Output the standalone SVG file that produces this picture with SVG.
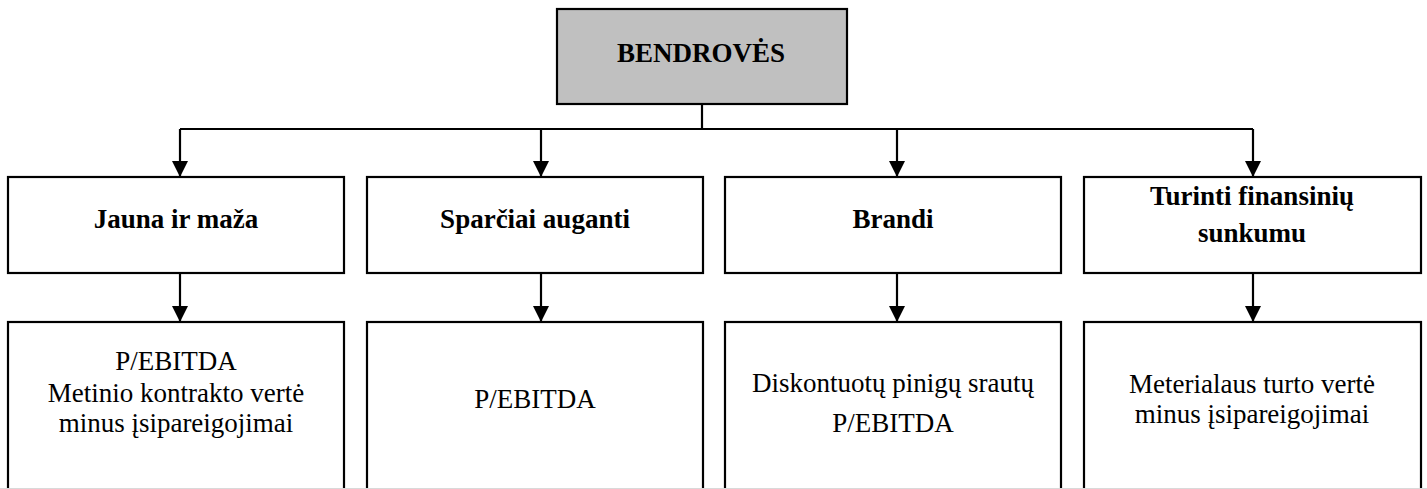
<svg xmlns="http://www.w3.org/2000/svg" width="1427" height="489" viewBox="0 0 1427 489">
  <style>
    .box { fill: #ffffff; stroke: #000000; stroke-width: 2.2; }
    .root { fill: #c0c0c0; stroke: #000000; stroke-width: 2.2; }
    .link { fill: none; stroke: #000000; stroke-width: 2.2; }
    .t { font-family: "Liberation Serif", "Times New Roman", serif; font-size: 27px; fill: #000000; text-anchor: middle; }
    .b { font-weight: bold; }
  </style>
  <defs>
    <marker id="arrow" markerUnits="userSpaceOnUse" markerWidth="16" markerHeight="18" refX="15" refY="8" orient="auto">
      <path d="M0,0 L16,8 L0,16 Z" fill="#000000"/>
    </marker>
  </defs>

  <rect width="1427" height="489" fill="#ffffff"/>

  <!-- connectors -->
  <g id="connectors">
    <path class="link" d="M702,104 V129"/>
    <path class="link" d="M180,129 H1253"/>
    <path class="link" d="M180,129 V176" marker-end="url(#arrow)"/>
    <path class="link" d="M541,129 V176" marker-end="url(#arrow)"/>
    <path class="link" d="M897,129 V176" marker-end="url(#arrow)"/>
    <path class="link" d="M1253,129 V176" marker-end="url(#arrow)"/>
    <path class="link" d="M180,273 V321" marker-end="url(#arrow)"/>
    <path class="link" d="M541,273 V321" marker-end="url(#arrow)"/>
    <path class="link" d="M897,273 V321" marker-end="url(#arrow)"/>
    <path class="link" d="M1253,273 V321" marker-end="url(#arrow)"/>
  </g>

  <!-- top node -->
  <g id="bendroves">
    <rect class="root" x="557" y="9" width="290" height="95"/>
    <text class="t b" x="701" y="62">BENDROVĖS</text>
  </g>

  <!-- categories -->
  <g id="jauna">
    <rect class="box" x="8" y="177" width="336" height="96"/>
    <text class="t b" x="176" y="228">Jauna ir maža</text>
  </g>
  <g id="sparciai">
    <rect class="box" x="367" y="177" width="336" height="96"/>
    <text class="t b" x="535" y="228">Sparčiai auganti</text>
  </g>
  <g id="brandi">
    <rect class="box" x="725" y="177" width="336" height="96"/>
    <text class="t b" x="893" y="228">Brandi</text>
  </g>
  <g id="sunkumai">
    <rect class="box" x="1084" y="177" width="337" height="96"/>
    <text class="t b" x="1252" y="205">Turinti finansinių</text>
    <text class="t b" x="1252" y="242">sunkumu</text>
  </g>

  <!-- valuation methods -->
  <g id="metodai-jauna">
    <rect class="box" x="8" y="322" width="336" height="190"/>
    <text class="t" x="176" y="370">P/EBITDA</text>
    <text class="t" x="176" y="402">Metinio kontrakto vertė</text>
    <text class="t" x="176" y="432">minus įsipareigojimai</text>
  </g>
  <g id="metodai-sparciai">
    <rect class="box" x="367" y="322" width="336" height="190"/>
    <text class="t" x="535" y="408">P/EBITDA</text>
  </g>
  <g id="metodai-brandi">
    <rect class="box" x="725" y="322" width="336" height="190"/>
    <text class="t" x="893" y="392">Diskontuotų pinigų srautų</text>
    <text class="t" x="893" y="432">P/EBITDA</text>
  </g>
  <g id="metodai-sunkumai">
    <rect class="box" x="1084" y="322" width="337" height="190"/>
    <text class="t" x="1252" y="393">Meterialaus turto vertė</text>
    <text class="t" x="1252" y="423">minus įsipareigojimai</text>
  </g>

  <!-- page edge -->
  <line x1="0" y1="488.5" x2="1427" y2="488.5" stroke="#d9d9d9" stroke-width="1"/>
</svg>
